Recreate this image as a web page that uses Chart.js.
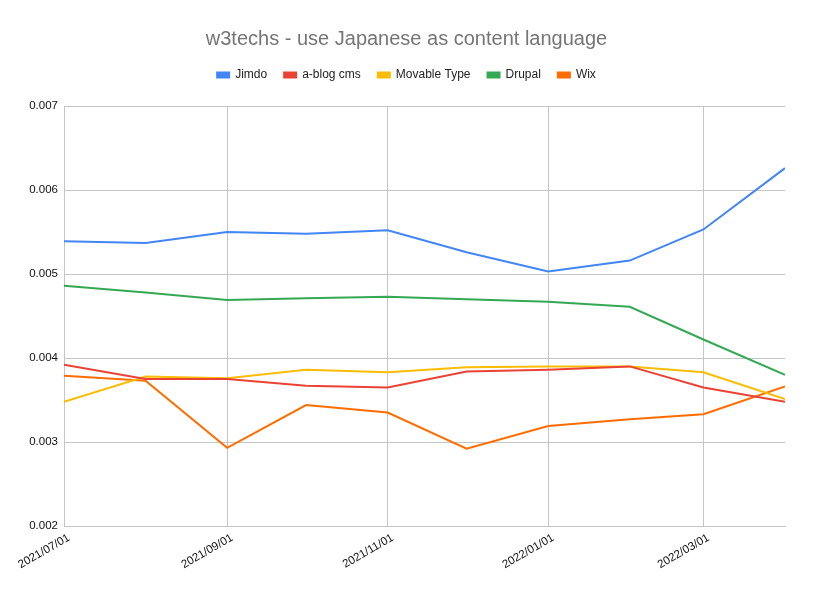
<!DOCTYPE html>
<html>
<head>
<meta charset="utf-8">
<script src="https://cdn.jsdelivr.net/npm/chart.js@4/dist/chart.umd.min.js"></script>
<style>
  html, body { margin: 0; padding: 0; background: #fff; }
  #wrap { width: 813px; height: 596px; }
</style>
</head>
<body>
<div id="wrap"><canvas id="c" width="813" height="596"></canvas></div>
<script>
const dates = ['2021/07/01','2021/08/01','2021/09/01','2021/10/01','2021/11/01','2021/12/01','2022/01/01','2022/02/01','2022/03/01','2022/04/01'];
const tickLabels = ['2021/07/01','2021/09/01','2021/11/01','2022/01/01','2022/03/01'];
const yTicks = [0.002, 0.003, 0.004, 0.005, 0.006, 0.007];

const jimdo       = [0.00539, 0.00537, 0.00550, 0.00548, 0.00552, 0.00526, 0.00503, 0.00516, 0.00553, 0.00626];
const ablogcms    = [0.00392, 0.00375, 0.00375, 0.00367, 0.00365, 0.00384, 0.00386, 0.00390, 0.00365, 0.00348];
const movableType = [0.00348, 0.00378, 0.00376, 0.00386, 0.00383, 0.00389, 0.00390, 0.00390, 0.00383, 0.00351];
const drupal      = [0.00486, 0.00478, 0.00469, 0.00471, 0.00473, 0.00470, 0.00467, 0.00461, 0.00422, 0.00380];
const wix         = [0.00379, 0.00373, 0.00293, 0.00344, 0.00335, 0.00292, 0.00319, 0.00327, 0.00333, 0.00366];

function dayOf(s) {
  const p = s.split('/').map(Number);
  const t0 = Date.UTC(2021, 6, 1);
  return Math.round((Date.UTC(p[0], p[1] - 1, p[2]) - t0) / 86400000);
}
const xs = dates.map(dayOf);
function pts(arr) { return arr.map((v, i) => ({ x: xs[i], y: v })); }

const FONT = '"Liberation Sans", Arial, Helvetica, sans-serif';
const GRID = '#c6c6c6';

function ds(label, data, color) {
  return { label, data: pts(data), borderColor: color, backgroundColor: color, borderWidth: 2, pointRadius: 0, tension: 0, fill: false };
}

const legendGap = {
  id: 'legendGap',
  afterInit(chart) {
    const lg = chart.legend;
    if (!lg) return;
    const orig = lg.fit;
    lg.fit = function () { orig.call(this); this.height += 15; };
  }
};

new Chart(document.getElementById('c'), {
  type: 'line',
  data: {
    datasets: [
      ds('Jimdo', jimdo, '#4285F4'),
      ds('a-blog cms', ablogcms, '#EA4335'),
      ds('Movable Type', movableType, '#FBBC04'),
      ds('Drupal', drupal, '#34A853'),
      ds('Wix', wix, '#FF6D01')
    ]
  },
  plugins: [legendGap],
  options: {
    responsive: false,
    animation: false,
    devicePixelRatio: 1,
    layout: { padding: { left: 28, right: 28, top: 0, bottom: 0 } },
    plugins: {
      tooltip: { enabled: false },
      title: {
        display: true,
        text: 'w3techs - use Japanese as content language',
        color: '#757575',
        font: { family: FONT, size: 20, weight: 'normal' },
        padding: { top: 27, bottom: 1 }
      },
      legend: {
        display: true,
        labels: {
          color: '#222',
          font: { family: FONT, size: 12 },
          boxWidth: 12,
          boxHeight: 5,
          padding: 17
        }
      }
    },
    scales: {
      x: {
        type: 'linear',
        min: dayOf(dates[0]),
        max: dayOf(dates[dates.length - 1]),
        afterBuildTicks: (s) => { s.ticks = tickLabels.map(l => ({ value: dayOf(l) })); },
        afterFit: (s) => { s.height = 70; },
        ticks: {
          autoSkip: false,
          maxRotation: 30,
          minRotation: 30,
          color: '#111',
          font: { family: FONT, size: 11.5 },
          padding: 5,
          labelOffset: 5,
          callback: (v) => { const i = tickLabels.findIndex(l => dayOf(l) === v); return i >= 0 ? tickLabels[i] : ''; }
        },
        grid: { color: GRID, drawTicks: false, lineWidth: 1 },
        border: { display: true, color: GRID }
      },
      y: {
        min: 0.002,
        max: 0.007,
        afterBuildTicks: (s) => { s.ticks = yTicks.map(v => ({ value: v })); },
        afterFit: (s) => { s.width = 36; },
        ticks: {
          color: '#111',
          font: { family: FONT, size: 11.5 },
          padding: 6,
          callback: (v) => Number(v).toFixed(3)
        },
        grid: { color: GRID, drawTicks: false, lineWidth: 1 },
        border: { display: true, color: GRID }
      }
    }
  }
});
</script>
</body>
</html>
